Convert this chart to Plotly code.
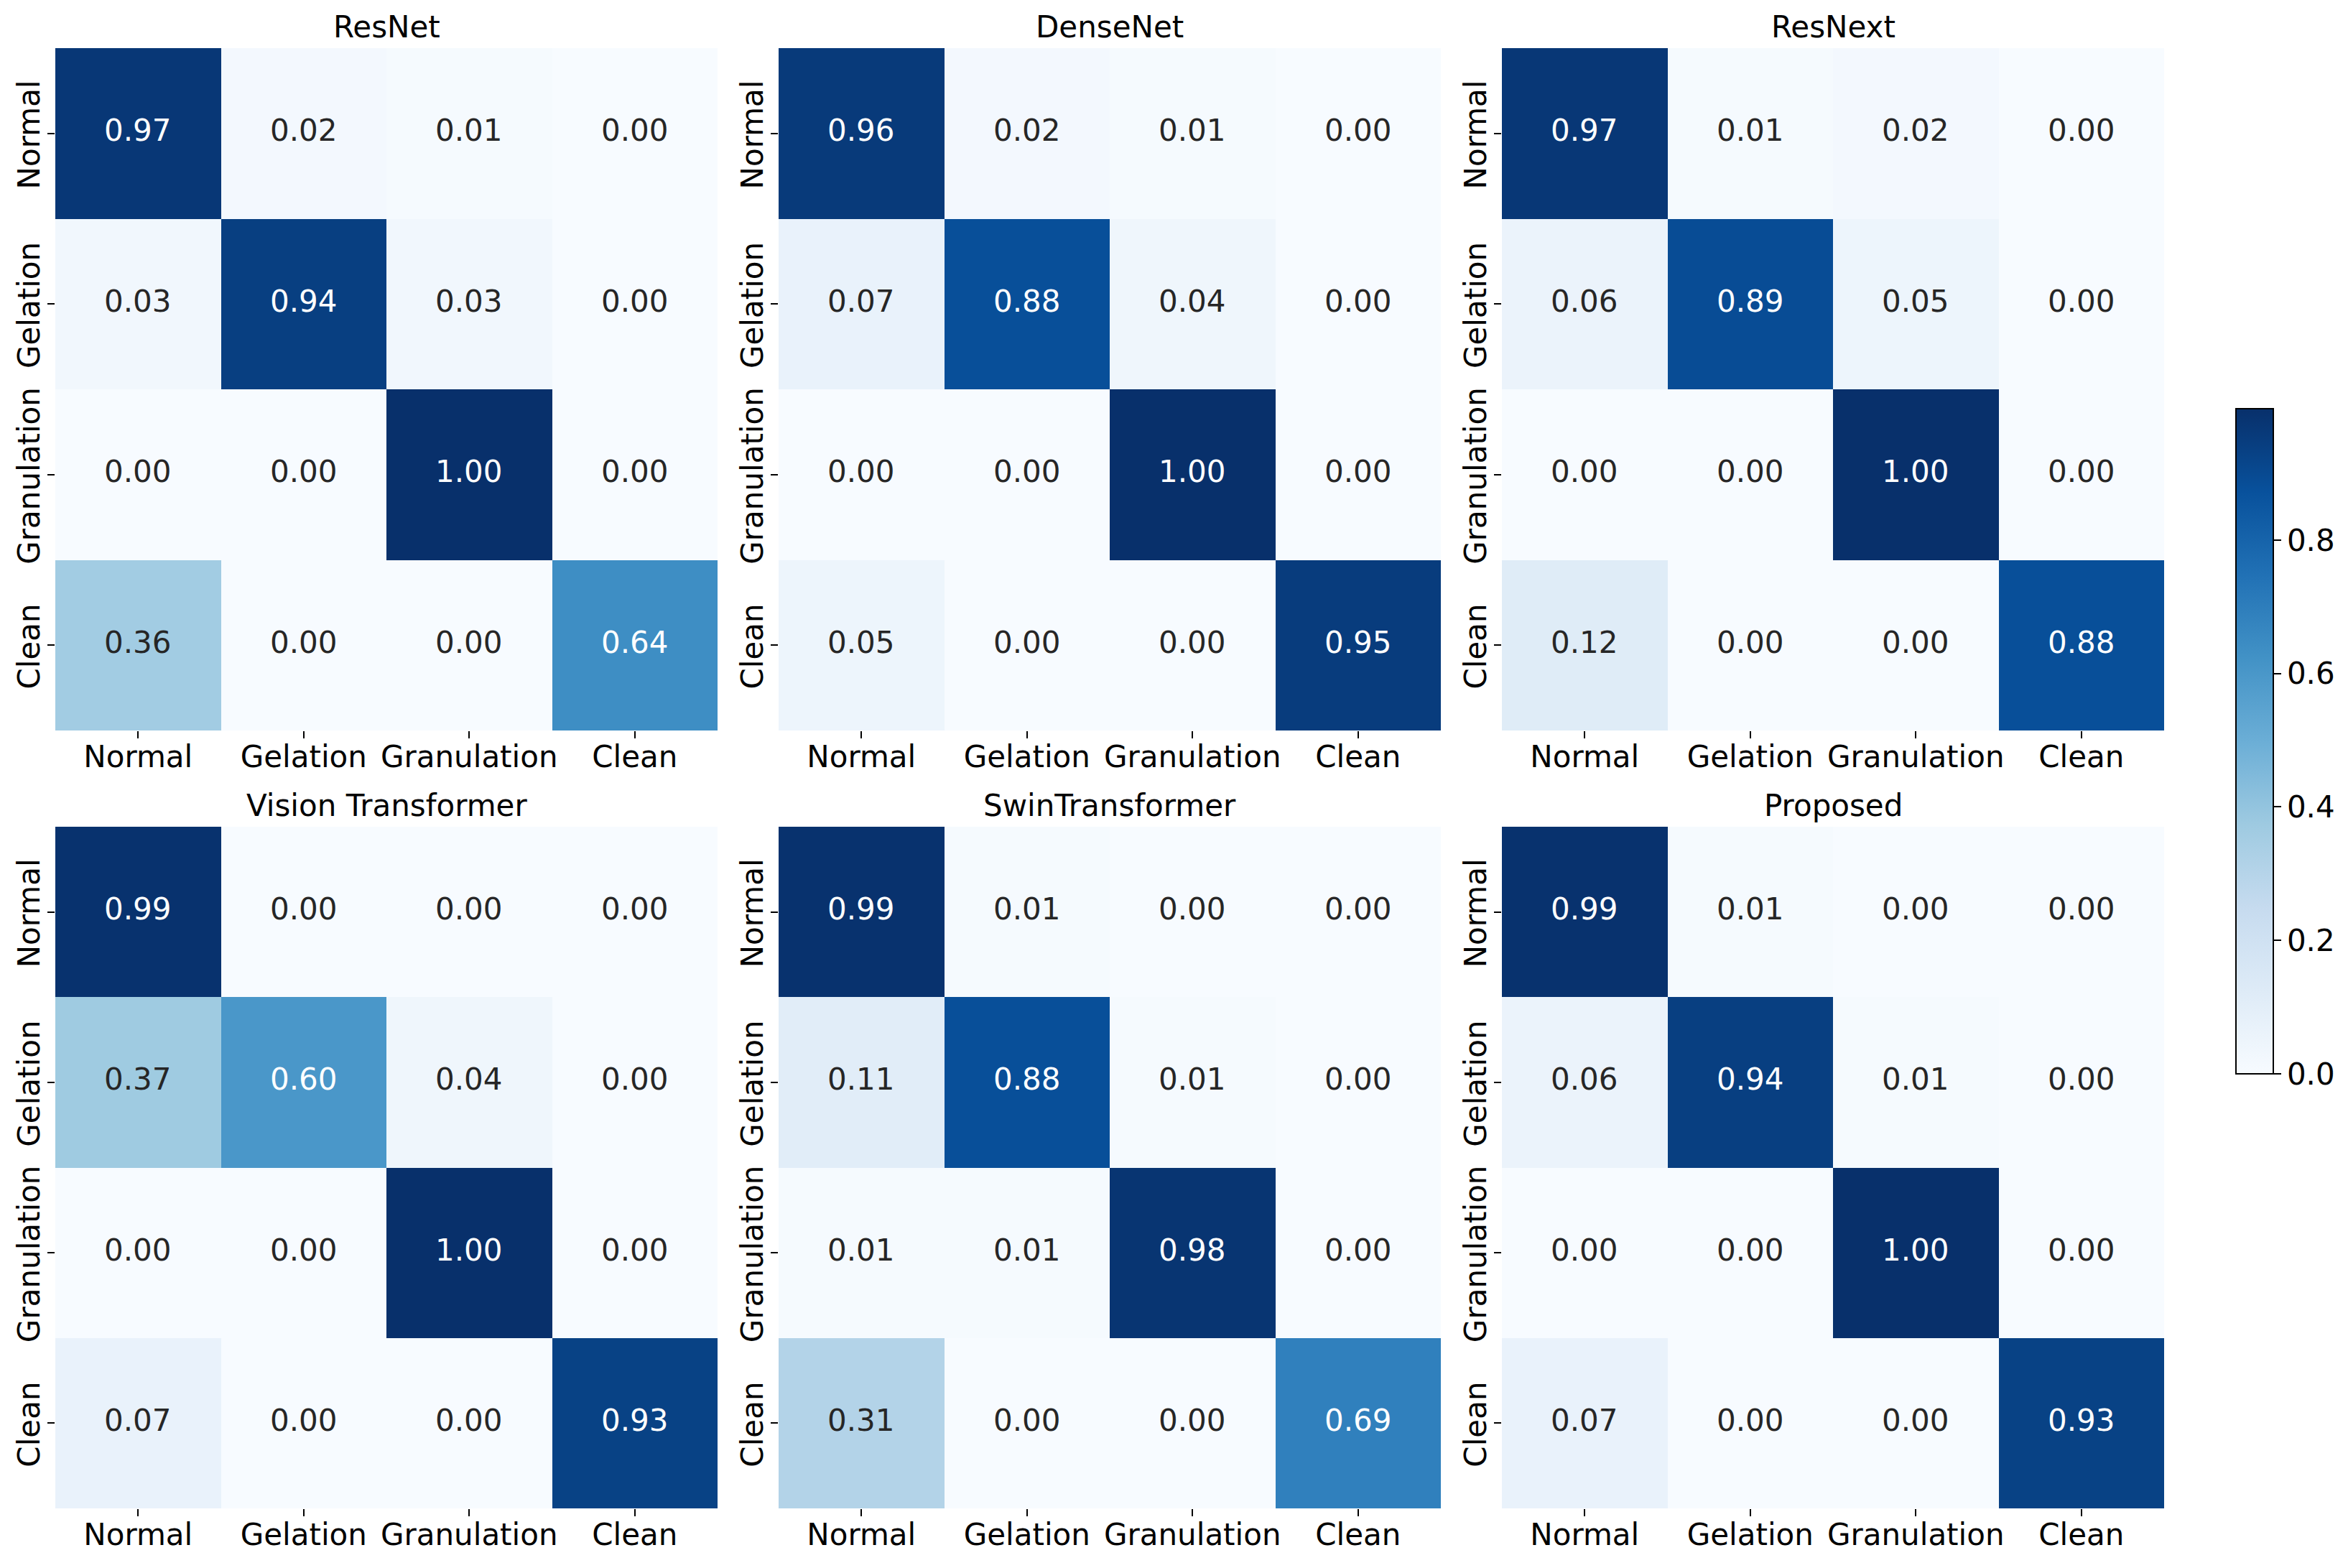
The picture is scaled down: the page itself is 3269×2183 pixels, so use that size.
import plotly.graph_objects as go
from plotly.subplots import make_subplots

labels = ["Normal", "Gelation", "Granulation", "Clean"]
titles = ["ResNet", "DenseNet", "ResNext", "Vision Transformer", "SwinTransformer", "Proposed"]

resnet = [[0.97, 0.02, 0.01, 0.00], [0.03, 0.94, 0.03, 0.00], [0.00, 0.00, 1.00, 0.00], [0.36, 0.00, 0.00, 0.64]]
densenet = [[0.96, 0.02, 0.01, 0.00], [0.07, 0.88, 0.04, 0.00], [0.00, 0.00, 1.00, 0.00], [0.05, 0.00, 0.00, 0.95]]
resnext = [[0.97, 0.01, 0.02, 0.00], [0.06, 0.89, 0.05, 0.00], [0.00, 0.00, 1.00, 0.00], [0.12, 0.00, 0.00, 0.88]]
vit = [[0.99, 0.00, 0.00, 0.00], [0.37, 0.60, 0.04, 0.00], [0.00, 0.00, 1.00, 0.00], [0.07, 0.00, 0.00, 0.93]]
swin = [[0.99, 0.01, 0.00, 0.00], [0.11, 0.88, 0.01, 0.00], [0.01, 0.01, 0.98, 0.00], [0.31, 0.00, 0.00, 0.69]]
proposed = [[0.99, 0.01, 0.00, 0.00], [0.06, 0.94, 0.01, 0.00], [0.00, 0.00, 1.00, 0.00], [0.07, 0.00, 0.00, 0.93]]
matrices = [resnet, densenet, resnext, vit, swin, proposed]

cbar_ticks = [0.0, 0.2, 0.4, 0.6, 0.8]

# matplotlib Blues
blues = ["#f7fbff", "#deebf7", "#c6dbef", "#9ecae1", "#6baed6", "#4292c6", "#2171b5", "#08519c", "#08306b"]
colorscale = [[i / 8, c] for i, c in enumerate(blues)]

# the page body has an 8px margin, so everything is laid out 8px up and left
W, H = 3253, 2167
FONT = "DejaVu Sans"
FS = 42
col_px = [(69, 991), (1076, 1998), (2083, 3005)]
row_px = [(59, 1009), (1143, 2092)]

fig = make_subplots(rows=2, cols=3)

for idx, (name, z) in enumerate(zip(titles, matrices)):
    row, col = idx // 3 + 1, idx % 3 + 1
    x0, x1 = col_px[col - 1]
    y0, y1 = row_px[row - 1]
    fig.add_trace(
        go.Heatmap(
            z=z, x=labels, y=labels,
            colorscale=colorscale, zmin=0, zmax=0.997,
            showscale=idx == 5,
            colorbar=dict(
                x=3105 / W, xanchor="left", xpad=0,
                y=1 - 1487 / H, yanchor="bottom", ypad=0,
                len=926 / H, lenmode="fraction",
                thickness=52, thicknessmode="pixels",
                outlinecolor="black", outlinewidth=2,
                tickmode="array", tickvals=cbar_ticks, ticktext=[f"{t:.1f}" for t in cbar_ticks],
                ticks="outside", ticklen=10, tickwidth=2, tickcolor="black",
                tickfont=dict(family=FONT, size=FS, color="black"),
            ),
        ),
        row=row, col=col,
    )
    fig.update_xaxes(
        domain=[x0 / W, x1 / W], tickangle=0, ticks="outside", ticklen=10, tickwidth=2,
        tickcolor="black", showgrid=False, zeroline=False, showline=False,
        ticklabelstandoff=-10,
        tickfont=dict(family=FONT, size=FS, color="black"),
        row=row, col=col,
    )
    fig.update_yaxes(
        domain=[1 - y1 / H, 1 - y0 / H], tickangle=-90, ticks="outside", ticklen=10, tickwidth=2,
        tickcolor="black", showgrid=False, zeroline=False, showline=False, autorange="reversed",
        ticklabelshift=-8, ticklabelstandoff=-6,
        tickfont=dict(family=FONT, size=FS, color="black"),
        row=row, col=col,
    )
    # panel title
    fig.add_annotation(
        text=name, xref="paper", yref="paper", x=(x0 + x1) / 2 / W, y=1 - (y0 - 3) / H,
        xanchor="center", yanchor="bottom", showarrow=False,
        font=dict(family=FONT, size=FS, color="black"),
    )
    # cell values
    for i, rowvals in enumerate(z):
        for j, v in enumerate(rowvals):
            fig.add_annotation(
                text=f"{v:.2f}", x=labels[j], y=labels[i], xref=f"x{idx + 1}", yref=f"y{idx + 1}",
                showarrow=False, yshift=4,
                font=dict(family=FONT, size=FS, color="white" if v > 0.5 else "#262626"),
            )

fig.update_layout(
    width=W, height=H,
    paper_bgcolor="white", plot_bgcolor="white",
    margin=dict(l=0, r=0, t=0, b=0, pad=0),
    showlegend=False,
)

fig.write_html("out.html")
